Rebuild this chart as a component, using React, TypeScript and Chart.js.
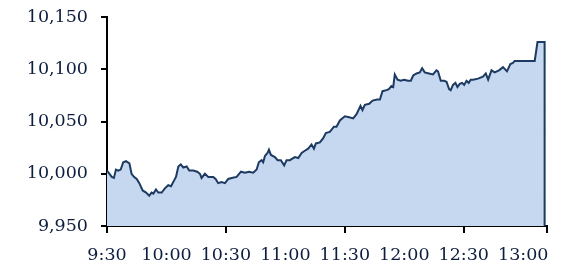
import React, { useEffect, useRef } from "react";
import { Chart, registerables } from "chart.js";

Chart.register(...registerables);

// minutes after 9:30
const minutes: number[] = [
  0, 2.4, 3.5, 4.5, 5.7, 6.9, 8.2, 9.6, 11.3, 12.4,
  13.6, 15, 16.3, 18, 19.7, 21.3, 22.5, 23.4, 24.7, 25.9,
  27.6, 29.2, 30.9, 32.3, 33.4, 34.8, 36, 37.2, 38.5, 40.2,
  41.5, 43.5, 45.5, 46.9,
  47.7, 49.4, 51.1, 53.6, 54.8, 56.1, 57.8, 59.5, 61.2, 62.9,
  65.4, 67.6, 69.6, 71.6, 73.8, 75.5, 76.6, 78, 78.8, 79.7,
  81, 81.7, 82.7, 84.7, 86.1, 87.7, 89.4, 90.6, 92.3, 93.1,
  94.8, 96.5, 98.2, 99.8, 101.5, 103.2, 104.4, 105.4, 107.4, 109.1,
  110.4, 112.4, 114.5, 115.8, 117.5, 120, 122.2, 124.2, 125.9, 127.9,
  128.9, 130.1, 132.3, 134, 136.3, 137.7, 139, 141,
  142.2, 143.5, 144.4, 145.2, 146.6, 148.2, 149.9, 151.9, 153.3, 154.5,
  156.2, 157.8, 159, 160.3, 162.4, 164.5, 166.2, 167, 168.4, 170.1,
  171.3, 172.6, 173.4, 174.6, 175.8, 176.8, 178, 179.2, 180.2, 181.4,
  182.5, 183.5,
  184.7, 187.2, 189.7, 191.1, 192.3, 194, 195.6, 197.8, 199.8, 201.8,
  203.5, 204.8, 205.7, 215.8, 217.2, 220.8, 220.8,
];

const values: number[] = [
  10003, 9997, 9996, 10004, 10003, 10004, 10011, 10012, 10010, 10000,
  9997, 9995, 9991, 9984, 9982, 9979, 9982, 9981, 9985, 9982,
  9982, 9986, 9989, 9988, 9992, 9997, 10007, 10009, 10006, 10007,
  10003, 10003, 10002, 10000,
  9996, 10000, 9997, 9997, 9995, 9991, 9992, 9991, 9995, 9996,
  9997, 10002, 10001, 10002, 10001, 10004, 10011, 10013, 10011, 10017,
  10020, 10023, 10018, 10016, 10013, 10013, 10008, 10013, 10013, 10014,
  10016, 10015, 10020, 10022, 10024, 10028, 10024, 10029, 10030, 10034,
  10039, 10040, 10045, 10045, 10051, 10055, 10054, 10053, 10057, 10065,
  10061, 10066, 10067, 10070, 10071, 10071, 10079, 10080,
  10081, 10084, 10083, 10095, 10090, 10089, 10090, 10089, 10089, 10094,
  10096, 10097, 10101, 10097, 10096, 10095, 10099, 10098, 10089, 10089,
  10088, 10081, 10080, 10085, 10087, 10083, 10086, 10087, 10085, 10089,
  10087, 10090,
  10090, 10091, 10093, 10096, 10090, 10099, 10097, 10099, 10102, 10098,
  10105, 10106, 10108, 10108, 10126, 10126, 9950,
];

// x tick positions (minutes after 9:30); labels every 30 min
const xTicks: number[] = [0, 30, 60, 90, 120, 150, 180, 210, 222];
const yMin = 9950;
const yMax = 10150;
const yStep = 50;
const xMax = 222;

const fmtTime = (m: number) => {
  const total = 9 * 60 + 30 + m;
  const h = Math.floor(total / 60);
  const mm = total % 60;
  return `${h}:${mm < 10 ? "0" + mm : mm}`;
};

const TEXT = "#0d1d3e";
const FONT = { family: "'DejaVu Serif', serif", size: 17.5 };

export default function App() {
  const ref = useRef<HTMLCanvasElement | null>(null);

  useEffect(() => {
    if (!ref.current) return;
    const data = minutes.map((m, i) => ({ x: m, y: values[i] }));
    const chart = new Chart(ref.current, {
      type: "line",
      data: {
        datasets: [
          {
            data,
            borderColor: "#1d3a62",
            backgroundColor: "#c6d8ef",
            borderWidth: 2,
            pointRadius: 0,
            tension: 0,
            fill: "start",
          },
        ],
      },
      options: {
        animation: false,
        responsive: false,
        maintainAspectRatio: false,
        layout: { padding: { top: 17, right: 22, left: 0, bottom: 0 } },
        plugins: { legend: { display: false }, tooltip: { enabled: false } },
        scales: {
          x: {
            type: "linear",
            min: 0,
            max: xMax,
            afterBuildTicks: (s: any) => {
              s.ticks = xTicks.map((v) => ({ value: v }));
            },
            afterFit: (s: any) => {
              s.height = 43;
              s.paddingLeft = 0;
              s.paddingRight = 0;
            },
            border: { color: "#000", width: 2 },
            grid: {
              drawOnChartArea: false,
              drawTicks: true,
              tickLength: 7,
              lineWidth: 2,
              color: (ctx: any) =>
                ctx.tick && (ctx.tick.value % 60 === 0 || ctx.tick.value === xMax)
                  ? "#000"
                  : "rgba(0,0,0,0)",
            },
            ticks: {
              autoSkip: false,
              maxRotation: 0,
              padding: 12,
              color: TEXT,
              font: FONT,
              callback: (v: any) => (Number(v) % 30 === 0 ? fmtTime(Number(v)) : ""),
            },
          },
          y: {
            min: yMin,
            max: yMax,
            afterFit: (s: any) => {
              s.width = 107;
              s.paddingTop = 0;
              s.paddingBottom = 0;
            },
            border: { color: "#000", width: 2 },
            grid: {
              drawOnChartArea: false,
              drawTicks: true,
              tickLength: 6,
              lineWidth: 2,
              color: "#000",
            },
            ticks: {
              stepSize: yStep,
              padding: 13,
              color: TEXT,
              font: FONT,
              callback: (v: any) => Number(v).toLocaleString("en-US"),
            },
          },
        },
      },
    });
    return () => chart.destroy();
  }, []);

  return (
    <div style={{ position: "fixed", left: 0, top: 0, width: 569, height: 269, background: "#fff" }}>
      <canvas ref={ref} width={569} height={269} style={{ display: "block" }} />
    </div>
  );
}
